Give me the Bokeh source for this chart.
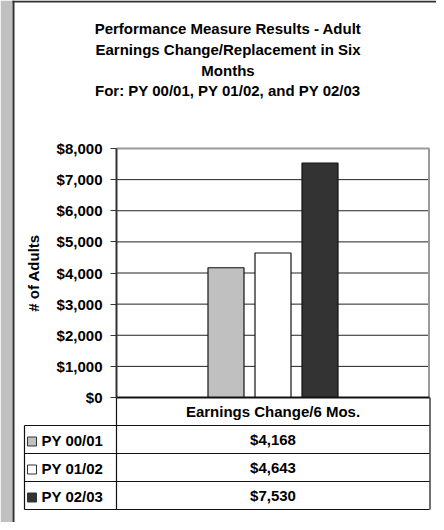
from bokeh.plotting import figure
from bokeh.models import Range1d, LinearAxis, FixedTicker, NumeralTickFormatter, ColumnDataSource
from bokeh.core.properties import value
from bokeh.embed import file_html
from bokeh.resources import INLINE

# ---------------- data ----------------
title_lines = [
    "Performance Measure Results - Adult",
    "Earnings Change/Replacement in Six",
    "Months",
    "For: PY 00/01, PY 01/02, and PY 02/03",
]
category = "Earnings Change/6 Mos."
series = ["PY 00/01", "PY 01/02", "PY 02/03"]
values = [4168, 4643, 7530]
colors = ["#c0c0c0", "#ffffff", "#333333"]
y_ticks = [0, 1000, 2000, 3000, 4000, 5000, 6000, 7000, 8000]
y_label = "# of Adults"

# ---------------- layout (figure pixels) ----------------
W, H = 436, 522
PL, PR, PT, PB = 116, 429, 148, 397      # plot area
SLOT = 47                                 # bar pitch
BAR_W = 36
YMAX = y_ticks[-1]
CX = (PL + PR) / 2.0
ROW_H = 28
TBL_L = 24
FONT = value("Liberation Sans")

scale = (PB - PT) / YMAX
x_start = (0 - CX) / SLOT
x_end = (W - CX) / SLOT
y_start = -(H - PB) / scale
y_end = YMAX + PT / scale

p = figure(width=W, height=H, output_backend="svg", toolbar_location=None,
           x_range=Range1d(x_start, x_end), y_range=Range1d(y_start, y_end),
           x_axis_location=None, y_axis_location=None, min_border=0,
           outline_line_color=None, background_fill_color="white",
           border_fill_color="white")
p.extra_x_ranges = {"px": Range1d(0, W)}
p.extra_y_ranges = {"px": Range1d(H, 0)}
p.grid.visible = False

PX = dict(x_range_name="px", y_range_name="px")

# gray strip and frame border
p.quad(left=[0], right=[12], top=[0], bottom=[H], fill_color="#c0c0c0", line_color=None, **PX)
p.segment(x0=[13], y0=[0], x1=[13], y1=[H], line_color="#333333", line_width=2, **PX)
p.segment(x0=[12], y0=[1], x1=[W], y1=[1], line_color="#333333", line_width=2, **PX)

# title
p.text(x=[227.5] * 4, y=[28, 49, 70, 90], text=title_lines, text_font=FONT,
       text_font_style="bold", text_font_size="15px", text_align="center",
       text_baseline="middle", text_color="black", **PX)

# gridlines
grid_y = y_ticks[1:-1]
p.segment(x0=[PL] * len(grid_y), x1=[PR] * len(grid_y), y0=grid_y, y1=grid_y,
          line_color="#222222", line_width=1, x_range_name="px")
# plot area top/right border (gray)
p.segment(x0=[PL], x1=[PR], y0=[YMAX], y1=[YMAX], line_color="#9a9a9a", line_width=2, x_range_name="px")
p.segment(x0=[PR - 0.5], x1=[PR - 0.5], y0=[0], y1=[YMAX], line_color="#9a9a9a", line_width=2, x_range_name="px")

# bars
offsets = [i - (len(series) - 1) / 2 for i in range(len(series))]
src = ColumnDataSource(dict(x=offsets, top=values, color=colors, name=series))
p.vbar(x="x", top="top", bottom=0, width=BAR_W / SLOT, fill_color="color",
       line_color="#111111", line_width=1.2, source=src)

# y axis
ax = LinearAxis(fixed_location=(PL - CX) / SLOT, ticker=FixedTicker(ticks=y_ticks),
                formatter=NumeralTickFormatter(format="$0,0"), bounds=(0, YMAX))
ax.axis_line_color = "#333333"
ax.axis_line_width = 2
ax.major_tick_out = 6
ax.major_tick_in = 0
ax.major_tick_line_color = "#333333"
ax.minor_tick_line_color = None
ax.major_label_text_font = "Liberation Sans"
ax.major_label_text_font_style = "bold"
ax.major_label_text_font_size = "15px"
ax.major_label_text_color = "black"
ax.major_label_standoff = 8
ax.axis_label = y_label
ax.axis_label_text_font = "Liberation Sans"
ax.axis_label_text_font_style = "bold"
ax.axis_label_text_font_size = "15px"
ax.axis_label_text_color = "black"
ax.axis_label_standoff = 12
p.add_layout(ax, "left")

# data table
row_tops = [PB + ROW_H * (i + 1) for i in range(len(series))]
row_mid = [t + ROW_H / 2 for t in row_tops]
tbl_bottom = row_tops[-1] + ROW_H
p.segment(x0=[PL], x1=[PR], y0=[PB], y1=[PB], line_color="#111111", line_width=2, **PX)
hy = row_tops + [tbl_bottom]
p.segment(x0=[TBL_L] * len(hy), x1=[PR] * len(hy), y0=hy, y1=hy, line_color="#111111", line_width=1.2, **PX)
p.segment(x0=[TBL_L, PL, PR + 0.5], x1=[TBL_L, PL, PR + 0.5], y0=[row_tops[0], PB, PB],
          y1=[tbl_bottom] * 3, line_color="#111111", line_width=1.2, **PX)

p.text(x=[0], y=[PB + ROW_H / 2], text=[category], text_font=FONT, text_font_style="bold",
       text_font_size="15px", text_align="center", text_baseline="middle", y_range_name="px")
p.text(x=[0] * len(values), y=row_mid, text=["${:,.0f}".format(v) for v in values],
       text_font=FONT, text_font_style="bold", text_font_size="15px", text_align="center",
       text_baseline="middle", y_range_name="px")
p.rect(x=[31.5] * len(series), y=[m + 2 for m in row_mid], width=9, height=9,
       fill_color=colors, line_color="#333333", line_width=1, **PX)
p.text(x=[41] * len(series), y=[m + 1 for m in row_mid], text=series, text_font=FONT,
       text_font_style="bold", text_font_size="15px", text_align="left",
       text_baseline="middle", **PX)

open("out.html", "w").write(file_html(p, INLINE))
